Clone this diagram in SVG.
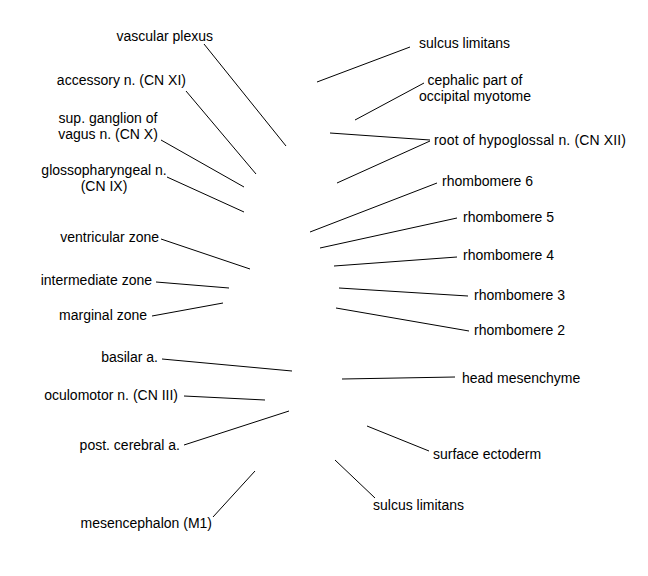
<svg xmlns="http://www.w3.org/2000/svg" width="648" height="576" viewBox="0 0 648 576">
<style>
text{font-family:"Liberation Sans",Arial,sans-serif;font-size:14px;fill:#000}
.e{text-anchor:end}.m{text-anchor:middle}
#connectors line{stroke:#000;stroke-width:1;fill:none}
</style>
<rect width="648" height="576" fill="#fff"/>
<g id="connectors">
<line x1="204" y1="44" x2="286" y2="146"/>
<line x1="186" y1="91" x2="256" y2="174"/>
<line x1="161" y1="140" x2="244" y2="187"/>
<line x1="167" y1="177" x2="244" y2="212"/>
<line x1="161" y1="239" x2="250" y2="269"/>
<line x1="156" y1="282" x2="229" y2="288"/>
<line x1="152" y1="316" x2="223" y2="303"/>
<line x1="162" y1="359" x2="292" y2="371"/>
<line x1="184" y1="396" x2="265" y2="400"/>
<line x1="184" y1="445" x2="289" y2="411"/>
<line x1="213" y1="517" x2="255" y2="471"/>
<line x1="410" y1="47" x2="317" y2="82"/>
<line x1="424" y1="83" x2="355" y2="120"/>
<line x1="330" y1="133" x2="430" y2="140"/>
<line x1="430" y1="141" x2="337" y2="183"/>
<line x1="437" y1="183" x2="310" y2="232"/>
<line x1="457" y1="218" x2="320" y2="248"/>
<line x1="457" y1="257" x2="334" y2="266"/>
<line x1="468" y1="296" x2="339" y2="288"/>
<line x1="469" y1="331" x2="336" y2="308"/>
<line x1="455" y1="377" x2="342" y2="379"/>
<line x1="429" y1="451" x2="367" y2="426"/>
<line x1="375" y1="498" x2="335" y2="460"/>
</g>
<g id="vascular-plexus"><text class="e" x="213" y="41">vascular plexus</text></g>
<g id="accessory-n"><text class="e" x="186" y="85">accessory n. (CN XI)</text></g>
<g id="sup-ganglion"><text class="m" x="108" y="123">sup. ganglion of</text><text class="m" x="108" y="139">vagus n. (CN X)</text></g>
<g id="glossopharyngeal"><text class="m" x="104" y="175">glossopharyngeal n.</text><text class="m" x="104" y="191">(CN IX)</text></g>
<g id="ventricular-zone"><text class="e" x="159" y="242">ventricular zone</text></g>
<g id="intermediate-zone"><text class="e" x="152" y="285">intermediate zone</text></g>
<g id="marginal-zone"><text class="e" x="147" y="320">marginal zone</text></g>
<g id="basilar-a"><text class="e" x="158" y="362">basilar a.</text></g>
<g id="oculomotor-n"><text class="e" x="178" y="400">oculomotor n. (CN III)</text></g>
<g id="post-cerebral-a"><text class="e" x="180" y="450">post. cerebral a.</text></g>
<g id="mesencephalon"><text class="e" x="212" y="528">mesencephalon (M1)</text></g>
<g id="sulcus-limitans-top"><text x="419" y="48">sulcus limitans</text></g>
<g id="cephalic-part"><text class="m" x="475" y="85">cephalic part of</text><text class="m" x="475" y="101">occipital myotome</text></g>
<g id="root-hypoglossal"><text x="434" y="145" letter-spacing="0.15">root of hypoglossal n. (CN XII)</text></g>
<g id="rhombomere-6"><text x="442" y="186">rhombomere 6</text></g>
<g id="rhombomere-5"><text x="463" y="222">rhombomere 5</text></g>
<g id="rhombomere-4"><text x="463" y="260">rhombomere 4</text></g>
<g id="rhombomere-3"><text x="474" y="300">rhombomere 3</text></g>
<g id="rhombomere-2"><text x="474" y="335">rhombomere 2</text></g>
<g id="head-mesenchyme"><text x="462" y="383">head mesenchyme</text></g>
<g id="surface-ectoderm"><text x="433" y="459">surface ectoderm</text></g>
<g id="sulcus-limitans-bottom"><text x="373" y="510">sulcus limitans</text></g>
</svg>
